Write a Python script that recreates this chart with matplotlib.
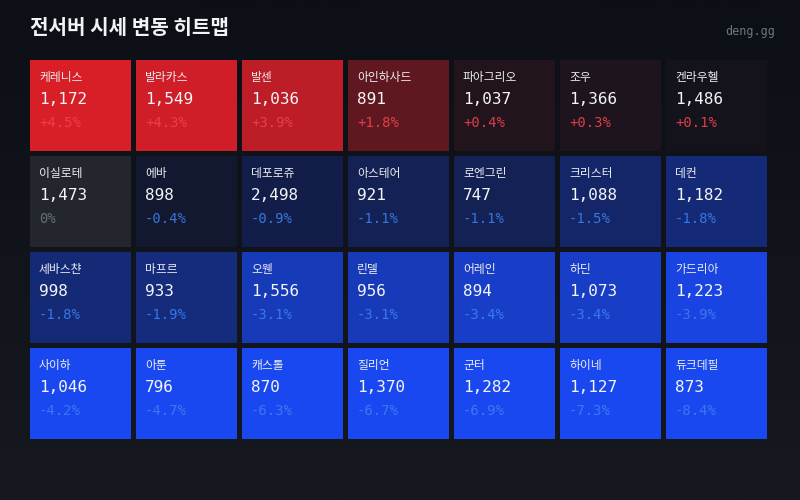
import numpy as np
import matplotlib
matplotlib.use("Agg")
import matplotlib.pyplot as plt
from matplotlib.patches import Rectangle
from matplotlib.colors import to_rgb

title = "전서버 시세 변동 히트맵"
source = "deng.gg"

names = [
    ["케레니스", "발라카스", "발센", "아인하사드", "파아그리오", "조우", "켄라우헬"],
    ["이실로테", "에바", "데포로쥬", "아스테어", "로엔그린", "크리스터", "데컨"],
    ["세바스챤", "마프르", "오웬", "린델", "어레인", "하딘", "가드리아"],
    ["사이하", "아툰", "캐스톨", "질리언", "군터", "하이네", "듀크데필"],
]
prices = [
    [1172, 1549, 1036, 891, 1037, 1366, 1486],
    [1473, 898, 2498, 921, 747, 1088, 1182],
    [998, 933, 1556, 956, 894, 1073, 1223],
    [1046, 796, 870, 1370, 1282, 1127, 873],
]
changes = [
    [4.5, 4.3, 3.9, 1.8, 0.4, 0.3, 0.1],
    [0.0, -0.4, -0.9, -1.1, -1.1, -1.5, -1.8],
    [-1.8, -1.9, -3.1, -3.1, -3.4, -3.4, -3.9],
    [-4.2, -4.7, -6.3, -6.7, -6.9, -7.3, -8.4],
]

W, H = 800, 500
fig = plt.figure(figsize=(8, 5), dpi=100)
ax = fig.add_axes([0, 0, 1, 1])
ax.set_xlim(0, W)
ax.set_ylim(H, 0)
ax.axis("off")

# background gradient
top = np.array(to_rgb("#0c0f16"))
bot = np.array(to_rgb("#161a20"))
t = np.linspace(0, 1, 256)[:, None, None]
grad = top * (1 - t) + bot * t
grad = np.repeat(grad, 2, axis=1)
ax.imshow(grad, extent=[0, W, H, 0], aspect="auto", zorder=0)

KR = ["Noto Sans CJK KR", "DejaVu Sans"]
MONO = ["DejaVu Sans Mono"]

ax.text(30, 27, title, fontsize=14.5, fontweight="bold", color="#f2f3f5",
        family=KR, va="center", ha="left")
ax.text(775, 31, source, fontsize=8.5, color="#6e7580", family=MONO,
        va="center", ha="right")

base = np.array(to_rgb("#10131c"))
red = np.array(to_rgb("#d81f27"))
blue = np.array(to_rgb("#1a48f0"))
gray = np.array(to_rgb("#23272d"))

x0, y0 = 30, 60
cw, ch = 101, 91
px, py = 106, 96

for r in range(len(names)):
    for c in range(len(names[r])):
        v = changes[r][c]
        if v > 0:
            a = min(v / 4.5, 1.0)
            col = base * (1 - a) + red * a
            tcol = "#f0434f"
            txt = f"+{v:.1f}%"
        elif v < 0:
            a = min(-v / 4.2, 1.0)
            col = base * (1 - a) + blue * a
            tcol = "#3b7ff0"
            txt = f"{v:.1f}%"
        else:
            col = gray
            tcol = "#6f757d"
            txt = "0%"
        x = x0 + c * px
        y = y0 + r * py
        ax.add_patch(Rectangle((x, y), cw, ch, facecolor=col, edgecolor="none", zorder=1))
        ax.text(x + 9, y + 17, names[r][c], fontsize=8.5, color="#eceef1",
                family=KR, va="center", ha="left", zorder=2)
        ax.text(x + 9, y + 39, f"{prices[r][c]:,}", fontsize=11.5, color="#f4f5f7",
                family=MONO, va="center", ha="left", zorder=2)
        ax.text(x + 9, y + 63, txt, fontsize=10, color=tcol, alpha=0.9,
                family=MONO, va="center", ha="left", zorder=2)

fig.savefig("out.png", dpi=100, facecolor="#0c0f16")
